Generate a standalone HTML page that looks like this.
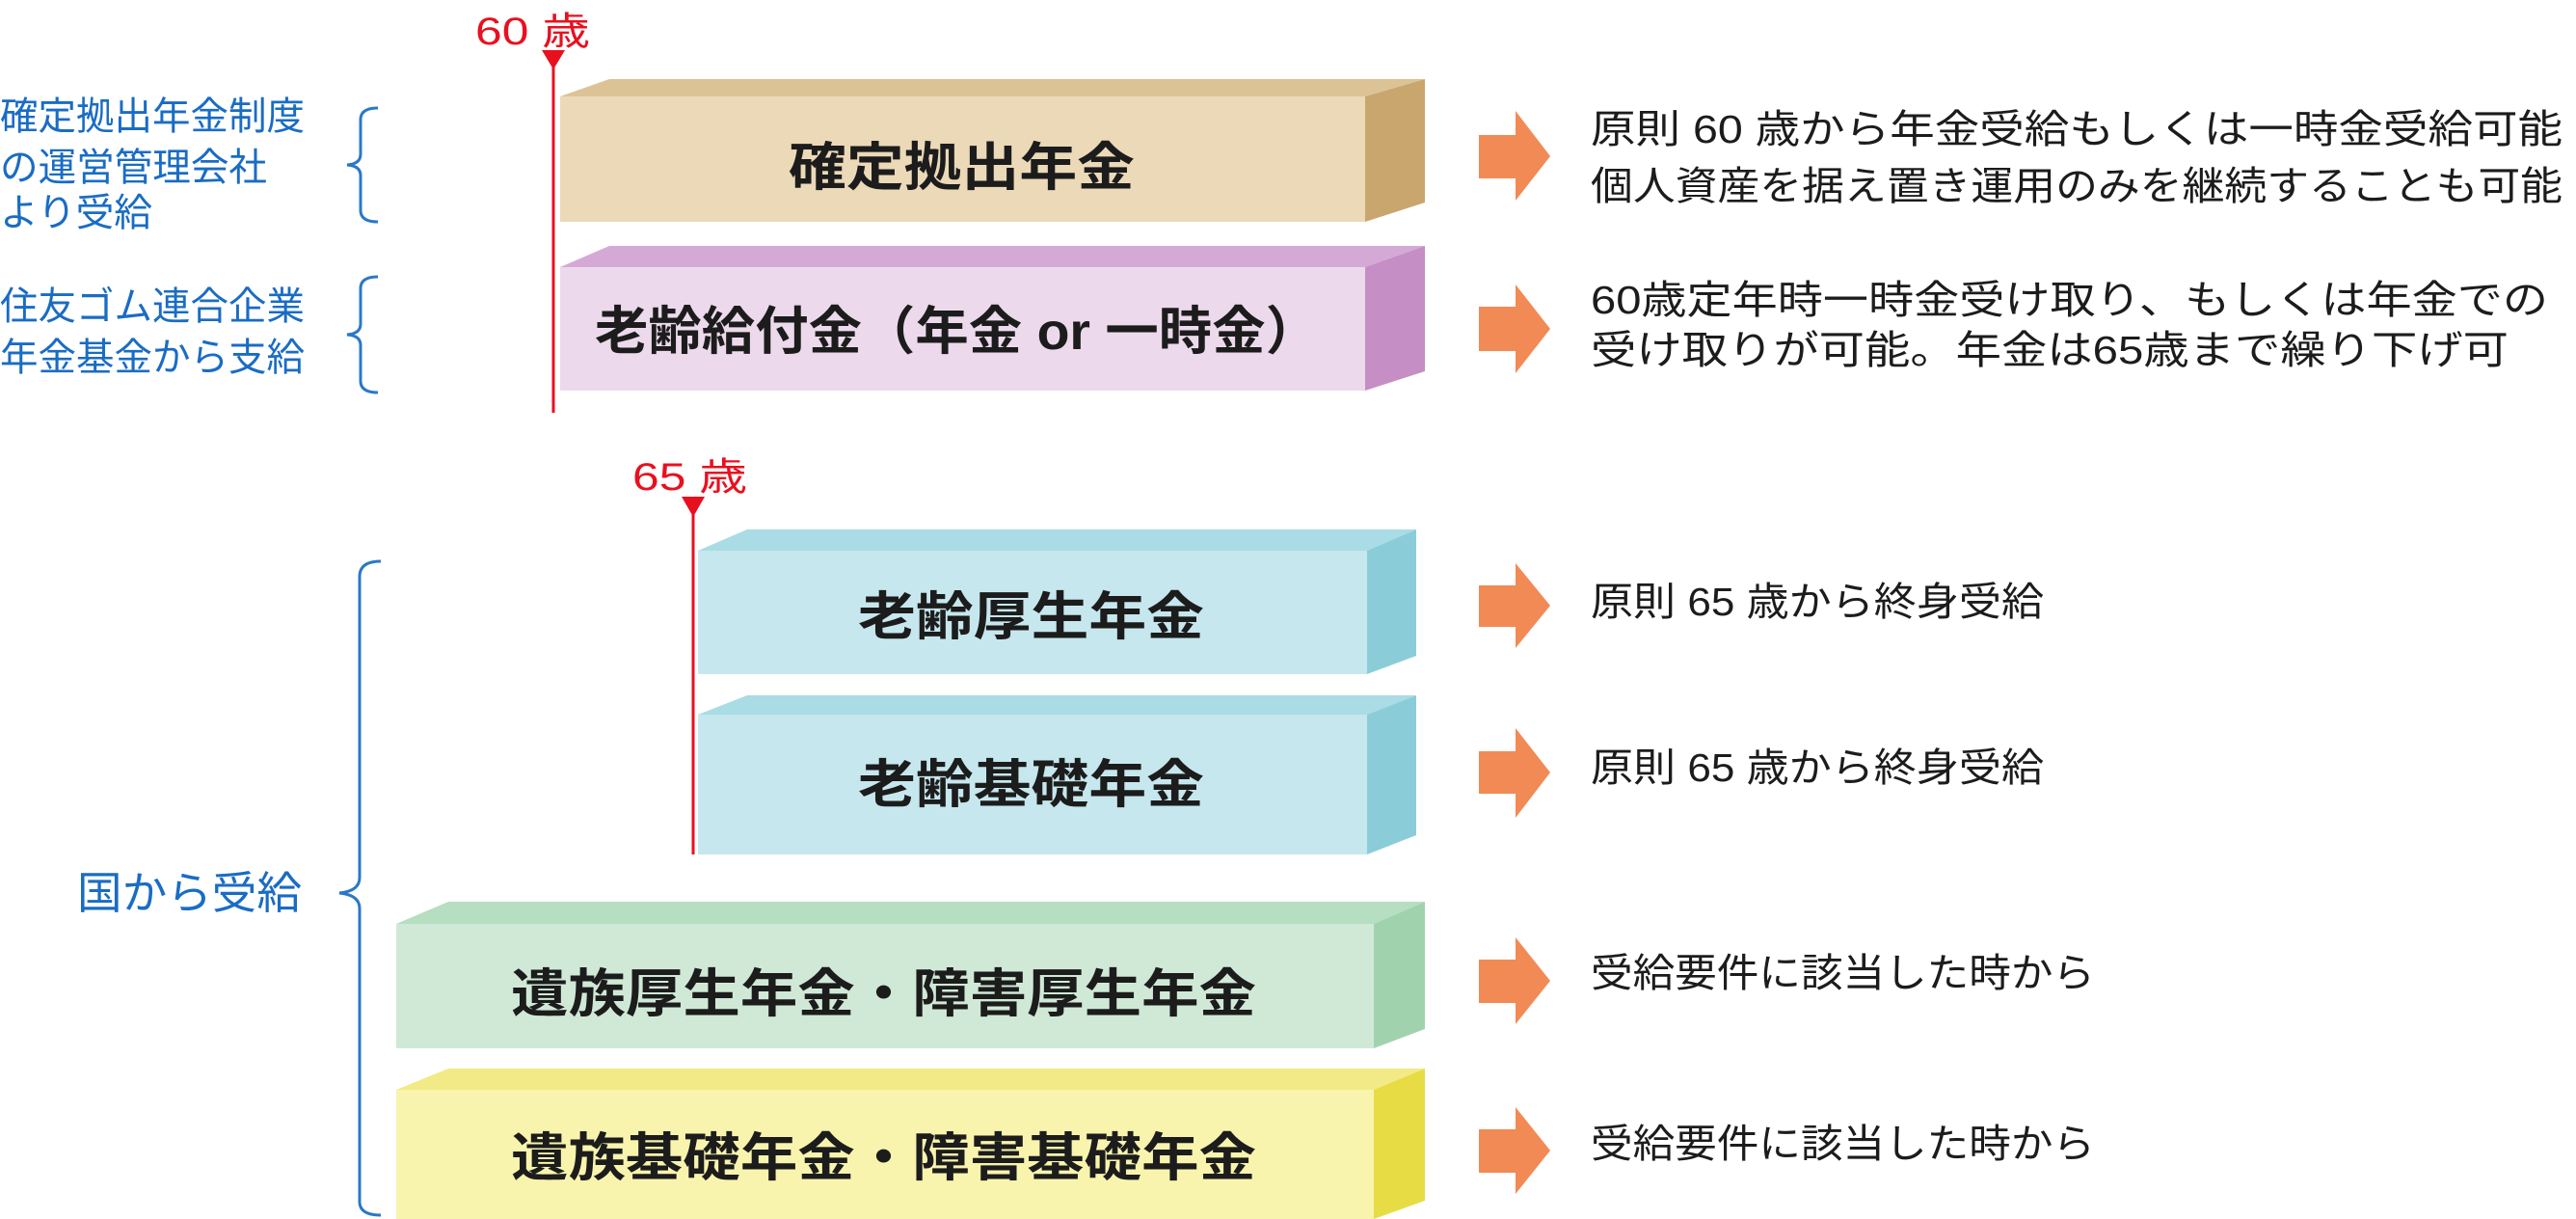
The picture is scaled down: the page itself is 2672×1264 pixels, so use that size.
<!DOCTYPE html>
<html><head><meta charset="utf-8"><style>
html,body{margin:0;padding:0;background:#fff;}
svg{display:block;}
text{font-family:"Liberation Sans","Noto Sans CJK JP",sans-serif;}
.t{font-weight:bold;fill:#1c1c1c;font-size:54px;}
.r{fill:#1c1c1c;font-size:41px;}
.b{fill:#1a6cc4;font-size:40px;}
</style></head><body>
<svg width="2672" height="1264" viewBox="0 0 2672 1264" xmlns="http://www.w3.org/2000/svg">
<!-- Box1 -->
<polygon points="581,100 632,82 1478,82 1416,100" fill="#dcc396"/>
<polygon points="1416,100 1478,82 1478,210 1416,230" fill="#c9a66e"/>
<rect x="581" y="100" width="835" height="130" fill="#ebd9b8"/>
<text class="t" x="818" y="192" textLength="359" lengthAdjust="spacingAndGlyphs">確定拠出年金</text>
<!-- Box2 -->
<polygon points="581,277 632,255 1478,255 1416,277" fill="#d5a9d5"/>
<polygon points="1416,277 1478,255 1478,385 1416,405" fill="#c58ec5"/>
<rect x="581" y="277" width="835" height="128" fill="#ecdaec"/>
<text class="t" x="617" y="362" textLength="751" lengthAdjust="spacingAndGlyphs">老齢給付金（年金 or 一時金）</text>
<!-- Box3 -->
<polygon points="724,571 775,549 1469,549 1418,571" fill="#a9dce4"/>
<polygon points="1418,571 1469,549 1469,680 1418,699" fill="#8acdd8"/>
<rect x="724" y="571" width="694" height="128" fill="#c6e7ed"/>
<text class="t" x="890" y="658" textLength="359" lengthAdjust="spacingAndGlyphs">老齢厚生年金</text>
<!-- Box4 -->
<polygon points="724,741 775,721 1469,721 1418,741" fill="#a9dce4"/>
<polygon points="1418,741 1469,721 1469,866 1418,886" fill="#8acdd8"/>
<rect x="724" y="741" width="694" height="145" fill="#c6e7ed"/>
<text class="t" x="890" y="832" textLength="359" lengthAdjust="spacingAndGlyphs">老齢基礎年金</text>
<!-- Box5 -->
<polygon points="411,958 465,935 1478,935 1425,958" fill="#b6dec1"/>
<polygon points="1425,958 1478,935 1478,1067 1425,1087" fill="#a0d3ad"/>
<rect x="411" y="958" width="1014" height="129" fill="#d0e9d7"/>
<text class="t" x="530" y="1049" textLength="773" lengthAdjust="spacingAndGlyphs">遺族厚生年金・障害厚生年金</text>
<!-- Box6 -->
<polygon points="411,1130 465,1108 1478,1108 1425,1130" fill="#f2ea86"/>
<polygon points="1425,1130 1478,1108 1478,1245 1425,1264" fill="#e8dc44"/>
<rect x="411" y="1130" width="1014" height="134" fill="#f8f4ad"/>
<text class="t" x="530" y="1219" textLength="773" lengthAdjust="spacingAndGlyphs">遺族基礎年金・障害基礎年金</text>
<!-- red markers -->
<text x="493" y="46" font-size="40" fill="#e8101f" textLength="119" lengthAdjust="spacingAndGlyphs">60 歳</text>
<polygon points="562,52 586,52 574,72" fill="#e8101f"/>
<line x1="574" y1="60" x2="574" y2="428" stroke="#e8101f" stroke-width="3"/>
<text x="656" y="508" font-size="40" fill="#e8101f" textLength="119" lengthAdjust="spacingAndGlyphs">65 歳</text>
<polygon points="707,515 731,515 719,536" fill="#e8101f"/>
<line x1="719" y1="522" x2="719" y2="886" stroke="#e8101f" stroke-width="3"/>
<!-- left labels -->
<text class="b" x="0" y="134" textLength="316" lengthAdjust="spacingAndGlyphs">確定拠出年金制度</text>
<text class="b" x="0" y="187" textLength="277" lengthAdjust="spacingAndGlyphs">の運営管理会社</text>
<text class="b" x="0" y="234" textLength="158" lengthAdjust="spacingAndGlyphs">より受給</text>
<text class="b" x="0" y="331" textLength="316" lengthAdjust="spacingAndGlyphs">住友ゴム連合企業</text>
<text class="b" x="0" y="384" textLength="316" lengthAdjust="spacingAndGlyphs">年金基金から支給</text>
<text class="b" x="80" y="942" font-size="46" textLength="233" lengthAdjust="spacingAndGlyphs" style="font-size:46px">国から受給</text>
<g fill="none" stroke="#2a78c8" stroke-width="3">
<path d="M392,112 Q374,112 374,124 L374,160 Q374,170 360,171 Q374,172 374,182 L374,218 Q374,230 392,230"/>
<path d="M392,287 Q374,287 374,299 L374,336 Q374,346 360,347 Q374,348 374,358 L374,395 Q374,407 392,407"/>
<path d="M395,582 Q373,582 373,598 L373,910 Q373,924 352,926 Q373,928 373,942 L373,1246 Q373,1260 395,1260"/>
</g>
<!-- arrows -->
<g fill="#f28a55">
<polygon points="1534,140 1572,140 1572,115 1608,162 1572,208 1572,185 1534,185"/>
<polygon points="1534,318 1572,318 1572,295 1608,341 1572,387 1572,364 1534,364"/>
<polygon points="1534,607 1572,607 1572,584 1608,628 1572,672 1572,650 1534,650"/>
<polygon points="1534,779 1572,779 1572,755 1608,801 1572,848 1572,823 1534,823"/>
<polygon points="1534,995 1572,995 1572,972 1608,1017 1572,1062 1572,1040 1534,1040"/>
<polygon points="1534,1171 1572,1171 1572,1148 1608,1193 1572,1238 1572,1216 1534,1216"/>
</g>
<!-- right text -->
<text class="r" x="1650" y="148" textLength="1008" lengthAdjust="spacingAndGlyphs">原則 60 歳から年金受給もしくは一時金受給可能</text>
<text class="r" x="1650" y="207" textLength="1008" lengthAdjust="spacingAndGlyphs">個人資産を据え置き運用のみを継続することも可能</text>
<text class="r" x="1650" y="325" textLength="993" lengthAdjust="spacingAndGlyphs">60歳定年時一時金受け取り、もしくは年金での</text>
<text class="r" x="1650" y="377" textLength="952" lengthAdjust="spacingAndGlyphs">受け取りが可能。年金は65歳まで繰り下げ可</text>
<text class="r" x="1650" y="638" textLength="470" lengthAdjust="spacingAndGlyphs">原則 65 歳から終身受給</text>
<text class="r" x="1650" y="810" textLength="470" lengthAdjust="spacingAndGlyphs">原則 65 歳から終身受給</text>
<text class="r" x="1650" y="1023" textLength="523" lengthAdjust="spacingAndGlyphs">受給要件に該当した時から</text>
<text class="r" x="1650" y="1200" textLength="523" lengthAdjust="spacingAndGlyphs">受給要件に該当した時から</text>
</svg>
</body></html>
